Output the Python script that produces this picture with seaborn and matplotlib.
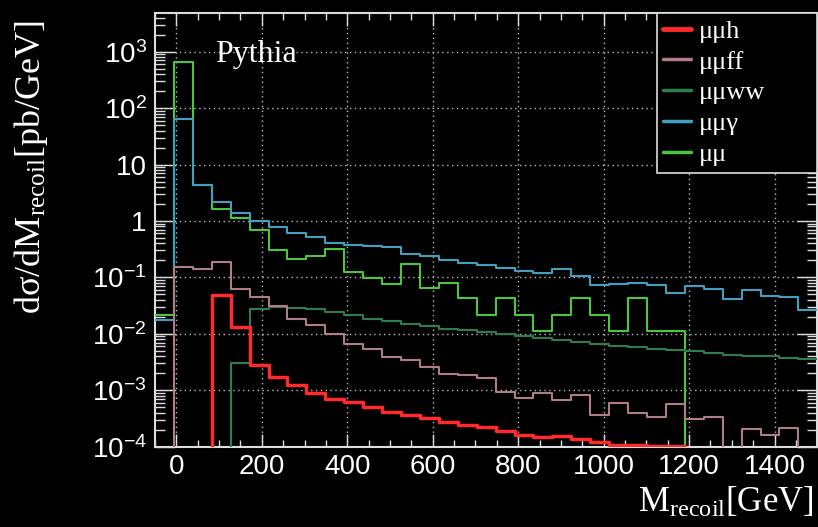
import numpy as np
import pandas as pd
import matplotlib
matplotlib.use("Agg")
import matplotlib.pyplot as plt
import seaborn as sns
from matplotlib.ticker import MultipleLocator, LogLocator, NullFormatter
from matplotlib.lines import Line2D

# ---------------- data ----------------
x_min, x_max, n_bins = -50.0, 1500.0, 35

series_names = ["μμh", "μμff", "μμww", "μμγ", "μμ"]

mumu_h = [0, 0, 0, 0.048, 0.0132, 0.00283, 0.0017, 0.00122, 0.0009, 0.000707,
          0.000615, 0.000501, 0.000409, 0.000372, 0.000325, 0.000272, 0.000247,
          0.000221, 0.000186, 0.000158, 0.000151, 0.000155, 0.000138, 0.00012,
          0.000106, 0.000107, 0.000105, 0.000102, 0, 0, 0, 0, 0, 0, 0]

mumu_ff = [0, 0.153, 0.143, 0.19, 0.063, 0.045, 0.031, 0.0186, 0.0141, 0.0100,
           0.0065, 0.0053, 0.00387, 0.00338, 0.00257, 0.00196, 0.00183, 0.00167,
           0.000925, 0.000736, 0.0009, 0.00066, 0.00084, 0.000372, 0.00059,
           0.000398, 0.00034, 0.00058, 0.000305, 0.000338, 0, 0.000204,
           0.000163, 0.000218, 0]

mumu_ww = [0, 0, 0, 0, 0.00308, 0.0279, 0.0299, 0.0291, 0.0272, 0.0243,
           0.0219, 0.0186, 0.0168, 0.0151, 0.0137, 0.0123, 0.0115, 0.0108,
           0.0100, 0.0090, 0.0084, 0.0079, 0.0071, 0.0065, 0.0061, 0.0058,
           0.0054, 0.0052, 0.0049, 0.0046, 0.0043, 0.0041, 0.0040, 0.0037, 0.0036]

mumu_gamma = [0.0173, 63, 4.4, 2.18, 1.39, 0.99, 0.78, 0.62, 0.51, 0.41,
              0.37, 0.356, 0.35, 0.257, 0.236, 0.206, 0.183, 0.164, 0.149,
              0.130, 0.122, 0.143, 0.106, 0.0745, 0.076, 0.0807, 0.0745,
              0.0528, 0.0705, 0.0633, 0.042, 0.0607, 0.0468, 0.0449, 0.026]

mumu = [0.022, 665, 4.4, 1.66, 1.13, 0.70, 0.30, 0.21, 0.24, 0.32,
        0.125, 0.099, 0.076, 0.176, 0.066, 0.078, 0.044, 0.022, 0.044,
        0.022, 0.011, 0.022, 0.044, 0.022, 0.011, 0.044, 0.011, 0.011,
        0, 0, 0, 0, 0, 0, 0]

x_ticks = [0, 200, 400, 600, 800, 1000, 1200, 1400]
x_tick_labels = ["0", "200", "400", "600", "800", "1000", "1200", "1400"]
y_ticks = [1e-4, 1e-3, 1e-2, 1e-1, 1, 10, 1e2, 1e3]
y_tick_labels = [r"$\mathsf{10^{-4}}$", r"$\mathsf{10^{-3}}$", r"$\mathsf{10^{-2}}$",
                 r"$\mathsf{10^{-1}}$", "1", "10", r"$\mathsf{10^{2}}$", r"$\mathsf{10^{3}}$"]

# ---------------- style ----------------
colors = {"μμh": "#ff2b2b", "μμff": "#b07d86", "μμww": "#2e7d50",
          "μμγ": "#41a0c0", "μμ": "#4cc63c"}
widths = {"μμh": 2.5, "μμff": 1.5, "μμww": 1.5, "μμγ": 1.5, "μμ": 1.5}

sns.set_style("ticks", {"axes.facecolor": "black", "figure.facecolor": "black"})
plt.rcParams.update({
    "font.family": ["Liberation Sans", "DejaVu Sans"],
    "mathtext.fontset": "custom",
    "mathtext.rm": "Liberation Serif",
    "mathtext.it": "Liberation Serif:italic",
    "mathtext.sf": "Liberation Sans",
})

fig = plt.figure(figsize=(8.18, 5.27), dpi=100, facecolor="black")
ax = fig.add_axes([155 / 818, 1 - 446.7 / 527, 662.3 / 818, 434 / 527])
ax.set_facecolor("black")

edges = list(np.linspace(x_min, x_max, n_bins + 1))
centers = [0.5 * (edges[i] + edges[i + 1]) for i in range(n_bins)]
values = {"μμh": mumu_h, "μμff": mumu_ff, "μμww": mumu_ww,
          "μμγ": mumu_gamma, "μμ": mumu}

draw_order = ["μμ", "μμγ", "μμww", "μμff", "μμh"]
for name in draw_order:
    df = pd.DataFrame({"M": centers, "w": values[name]})
    sns.histplot(data=df, x="M", weights="w", bins=edges, element="step",
                 fill=False, color=colors[name], linewidth=widths[name], ax=ax,
                 zorder=3)

ax.set_yscale("log")
ax.set_xlim(x_min, x_max)
ax.set_ylim(1e-4, 4.9e3)

ax.set_xticks(x_ticks, labels=x_tick_labels)
ax.set_yticks(y_ticks, labels=y_tick_labels)
ax.xaxis.set_minor_locator(MultipleLocator(50))
ax.yaxis.set_minor_locator(LogLocator(base=10, subs=np.arange(2, 10), numticks=60))
ax.yaxis.set_minor_formatter(NullFormatter())

ax.grid(True, which="major", color="#bbbbbb", linestyle=(0, (1.0, 2.5)),
        linewidth=1.0, zorder=1)

ax.tick_params(axis="both", which="both", direction="in", top=True, right=True,
               color="#dddddd", labelcolor="white")
ax.tick_params(axis="x", which="major", length=9.5, width=1.0, labelsize=20, pad=5)
ax.tick_params(axis="x", which="minor", length=4.7, width=1.0)
ax.tick_params(axis="y", which="major", length=14.5, width=1.0, labelsize=20, pad=6)
ax.tick_params(axis="y", which="minor", length=7.2, width=1.0)
for sp in ax.spines.values():
    sp.set_color("#dddddd")
    sp.set_linewidth(1.5)

ax.set_ylabel("dσ/dM$_{\\mathrm{recoil}}$[pb/GeV]", fontfamily="Liberation Serif",
              fontsize=26, color="white", loc="top")
ax.yaxis.set_label_coords(-0.1585, 0.983)
ax.set_xlabel("M$_{\\mathrm{recoil}}$[GeV]", fontfamily="Liberation Serif",
              fontsize=25, color="white", loc="right")
ax.xaxis.set_label_coords(0.995, -0.09)

ax.text(0.0906, 0.886, "Pythia", transform=ax.transAxes, fontfamily="Liberation Serif",
        fontsize=23, color="white", va="baseline", ha="left")

handles = [Line2D([0], [0], color=colors[n], lw=widths[n] + 1.0) for n in series_names]
leg = ax.legend(handles, series_names, loc="upper left",
                bbox_to_anchor=(0.7575, 0.0, 0.2425, 1.0), mode="expand",
                borderaxespad=0, frameon=True, fancybox=False, framealpha=1,
                facecolor="black", edgecolor="#dddddd",
                prop={"family": "Liberation Serif", "size": 19},
                handlelength=1.05, handletextpad=0.3, labelspacing=0.28,
                borderpad=0.25)
leg.get_frame().set_linewidth(1.2)
for t in leg.get_texts():
    t.set_color("white")

fig.savefig("out.png", dpi=100, facecolor="black")
